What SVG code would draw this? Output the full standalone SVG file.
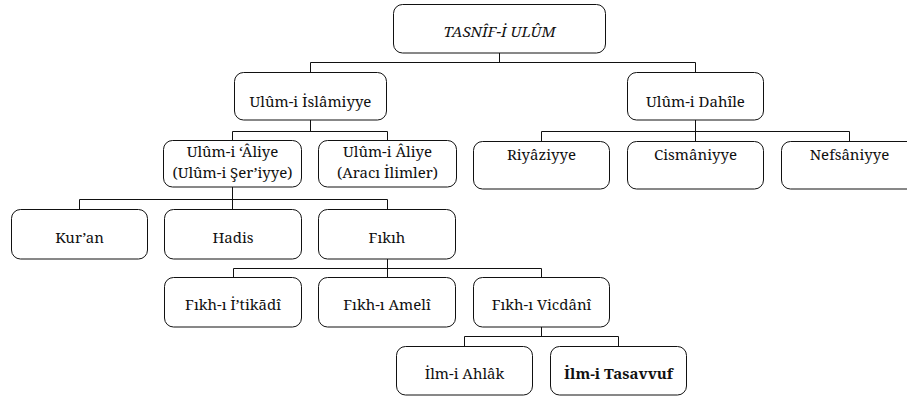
<svg xmlns="http://www.w3.org/2000/svg" width="907" height="399" viewBox="0 0 907 399">
<style>
.box{fill:#fff;stroke:#111;stroke-width:1}
.t{font-family:'Noto Serif','DejaVu Serif',serif;font-size:15px;fill:#111;text-anchor:middle}
.c{fill:none;stroke:#111;stroke-width:1}
</style>
<rect width="907" height="399" fill="#fff"/>
<g id="connectors">
<path class="c" d="M499.5 53V62.5M310.5 62.5H695.5M310.5 62.5V72M695.5 62.5V72"/>
<path class="c" d="M310.5 120V131.5M232.5 131.5H387.5M232.5 131.5V140M387.5 131.5V140"/>
<path class="c" d="M695.5 120V131.5M541.5 131.5H849.5M541.5 131.5V141M695.5 131.5V141M849.5 131.5V141"/>
<path class="c" d="M232.5 187V199.5M79.5 199.5H387.5M79.5 199.5V209M232.5 199.5V209M387.5 199.5V209"/>
<path class="c" d="M387.5 259V268.5M233.5 268.5H541.5M233.5 268.5V277M387.5 268.5V277M541.5 268.5V277"/>
<path class="c" d="M541.5 327V336.5M464.5 336.5H618.5M464.5 336.5V346M618.5 336.5V346"/>
</g>
<g id="root"><rect class="box" x="393.5" y="4.5" width="212" height="48.5" rx="9"/><text class="t" x="499.5" y="37" font-style="italic">TASNÎF-İ ULÛM</text></g>
<g id="islamiyye"><rect class="box" x="234.5" y="72.5" width="152" height="47.5" rx="9"/><text class="t" x="310.5" y="107">Ulûm-i İslâmiyye</text></g>
<g id="dahile"><rect class="box" x="627.5" y="72.5" width="136" height="47.5" rx="9"/><text class="t" x="695.5" y="107">Ulûm-i Dahîle</text></g>
<g id="aliye"><rect class="box" x="163.5" y="140.5" width="138" height="46.5" rx="9"/><text class="t" x="232.5" y="157">Ulûm-i ‘Âliye</text><text class="t" x="232.5" y="178">(Ulûm-i Şer’iyye)</text></g>
<g id="araci"><rect class="box" x="318.5" y="140.5" width="138" height="46.5" rx="9"/><text class="t" x="387.5" y="157">Ulûm-i Âliye</text><text class="t" x="387.5" y="178">(Aracı İlimler)</text></g>
<g id="riyaziyye"><rect class="box" x="473.5" y="141.5" width="136" height="47.5" rx="9"/><text class="t" x="541.5" y="160">Riyâziyye</text></g>
<g id="cismaniyye"><rect class="box" x="627.5" y="141.5" width="136" height="47.5" rx="9"/><text class="t" x="695.5" y="160">Cismâniyye</text></g>
<g id="nefsaniyye"><rect class="box" x="781.5" y="141.5" width="136" height="47.5" rx="9"/><text class="t" x="849.5" y="160">Nefsâniyye</text></g>
<g id="kuran"><rect class="box" x="11.5" y="209.5" width="136" height="49.5" rx="9"/><text class="t" x="79.5" y="243">Kur’an</text></g>
<g id="hadis"><rect class="box" x="164.5" y="209.5" width="137" height="49.5" rx="9"/><text class="t" x="233" y="243">Hadis</text></g>
<g id="fikih"><rect class="box" x="318.5" y="209.5" width="137" height="49.5" rx="9"/><text class="t" x="387" y="243">Fıkıh</text></g>
<g id="itikadi"><rect class="box" x="164.5" y="277.5" width="137" height="49.5" rx="9"/><text class="t" x="233" y="310">Fıkh-ı İ’tikādî</text></g>
<g id="ameli"><rect class="box" x="318.5" y="277.5" width="137" height="49.5" rx="9"/><text class="t" x="387" y="310">Fıkh-ı Amelî</text></g>
<g id="vicdani"><rect class="box" x="473.5" y="277.5" width="136" height="49.5" rx="9"/><text class="t" x="541.5" y="310">Fıkh-ı Vicdânî</text></g>
<g id="ahlak"><rect class="box" x="396.5" y="346.5" width="136" height="48.5" rx="9"/><text class="t" x="464.5" y="379">İlm-i Ahlâk</text></g>
<g id="tasavvuf"><rect class="box" x="550.5" y="346.5" width="136" height="48.5" rx="9"/><text class="t" x="618.5" y="379" font-weight="bold">İlm-i Tasavvuf</text></g>
</svg>
